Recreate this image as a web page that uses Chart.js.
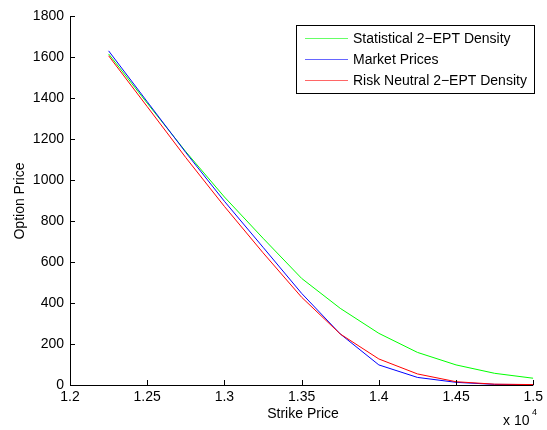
<!DOCTYPE html>
<html>
<head>
<meta charset="utf-8">
<script src="https://cdn.jsdelivr.net/npm/chart.js@4.4.0/dist/chart.umd.min.js"></script>
<style>
  html, body { margin: 0; padding: 0; background: #fff; }
  #wrap { width: 547px; height: 430px; }
</style>
</head>
<body>
<div id="wrap"><canvas id="myChart" width="547" height="430"></canvas></div>
<script>
// strike prices (x) and option prices
var strikes = [12250, 12500, 12750, 13000, 13250, 13500, 13750, 14000, 14250, 14500, 14750, 15000];
var statistical = [1615, 1375, 1138, 917, 716, 520, 374, 252, 159, 98, 57, 33];
var market = [1630, 1382, 1134, 896, 672, 447, 249, 98, 37, 13, 3, 2];
var riskNeutral = [1606, 1358, 1109, 871, 645, 428, 249, 127, 54, 16, 4, 2];

var seriesNames = ["Statistical 2\u2212EPT Density", "Market Prices", "Risk Neutral 2\u2212EPT Density"];
var xTicks = [12000, 12500, 13000, 13500, 14000, 14500, 15000];
var yTicks = [0, 200, 400, 600, 800, 1000, 1200, 1400, 1600, 1800];

var FONT = "Liberation Sans, Arial, Helvetica, sans-serif";

function pts(ys) {
    var out = [];
    for (var i = 0; i < strikes.length; i++) {
        out.push({ x: strikes[i], y: ys[i] });
    }
    return out;
}

// axes with inward ticks, titles, exponent and boxed legend, matlab style
var matlabBits = {
    id: 'matlabBits',
    afterDraw: function (chart) {
        var ctx = chart.ctx;
        var a = chart.chartArea;
        var xs = chart.scales.x, ys = chart.scales.y;
        ctx.save();
        ctx.strokeStyle = '#000';
        ctx.lineWidth = 1;
        ctx.beginPath();
        ctx.moveTo(Math.round(a.left) + 0.5, a.top);
        ctx.lineTo(Math.round(a.left) + 0.5, Math.round(a.bottom) + 0.5);
        ctx.lineTo(a.right, Math.round(a.bottom) + 0.5);
        ctx.stroke();

        ctx.beginPath();
        xTicks.forEach(function (v) {
            var px = Math.round(xs.getPixelForValue(v)) + 0.5;
            ctx.moveTo(px, a.bottom);
            ctx.lineTo(px, a.bottom - 5);
        });
        yTicks.forEach(function (v) {
            var py = Math.round(ys.getPixelForValue(v)) + 0.5;
            ctx.moveTo(a.left, py);
            ctx.lineTo(a.left + 5, py);
        });
        ctx.stroke();

        ctx.fillStyle = '#000';
        ctx.font = '14px ' + FONT;
        ctx.textAlign = 'center';
        ctx.textBaseline = 'middle';
        ctx.fillText('Strike Price', 303, 414);

        ctx.save();
        ctx.translate(20, 201);
        ctx.rotate(-Math.PI / 2);
        ctx.fillText('Option Price', 0, 0);
        ctx.restore();

        ctx.textAlign = 'left';
        ctx.fillText('x 10', 503, 421);
        ctx.font = '9px ' + FONT;
        ctx.fillText('4', 532, 413);

        // legend box
        ctx.fillStyle = '#fff';
        ctx.fillRect(296.5, 25.5, 238, 68);
        ctx.strokeStyle = '#000';
        ctx.strokeRect(296.5, 25.5, 238, 68);
        ctx.font = '14px ' + FONT;
        chart.data.datasets.forEach(function (ds, i) {
            var y = 38 + i * 21;
            ctx.strokeStyle = ds.borderColor;
            ctx.globalAlpha = 0.6;
            ctx.beginPath();
            ctx.moveTo(305, y + 0.5);
            ctx.lineTo(348, y + 0.5);
            ctx.stroke();
            ctx.globalAlpha = 1;
            ctx.fillStyle = '#000';
            ctx.textBaseline = 'middle';
            ctx.fillText(ds.label, 353, y + 1);
        });
        ctx.restore();
    }
};

var ctx = document.getElementById('myChart').getContext('2d');
var chart = new Chart(ctx, {
    type: 'line',
    data: {
        datasets: [{
            label: seriesNames[0],
            data: pts(statistical),
            borderColor: 'rgb(0, 255, 0)',
            borderWidth: 1,
            pointRadius: 0,
            fill: false,
            order: 3
        },
        {
            label: seriesNames[1],
            data: pts(market),
            borderColor: 'rgb(0, 0, 255)',
            borderWidth: 1,
            pointRadius: 0,
            fill: false,
            order: 2
        },
        {
            label: seriesNames[2],
            data: pts(riskNeutral),
            borderColor: 'rgb(255, 0, 0)',
            borderWidth: 1,
            pointRadius: 0,
            fill: false,
            order: 1
        }]
    },
    options: {
        responsive: false,
        animation: false,
        events: [],
        layout: { padding: { top: 16, right: 10, bottom: 0, left: 0 } },
        plugins: {
            legend: { display: false },
            tooltip: { enabled: false }
        },
        scales: {
            x: {
                type: 'linear',
                min: 12000,
                max: 15000,
                afterFit: function (s) { s.height = 45; },
                afterBuildTicks: function (s) { s.ticks = xTicks.map(function (v) { return { value: v }; }); },
                grid: { display: false, drawTicks: false },
                border: { display: false },
                ticks: {
                    padding: 4,
                    maxRotation: 0,
                    autoSkip: false,
                    color: '#000',
                    font: { family: FONT, size: 14 },
                    callback: function (v) { return String(v / 10000); }
                }
            },
            y: {
                min: 0,
                max: 1800,
                afterFit: function (s) { s.width = 70; },
                afterBuildTicks: function (s) { s.ticks = yTicks.map(function (v) { return { value: v }; }); },
                grid: { display: false, drawTicks: false },
                border: { display: false },
                ticks: {
                    padding: 6,
                    autoSkip: false,
                    color: '#000',
                    font: { family: FONT, size: 14 },
                    callback: function (v) { return String(v); }
                }
            }
        }
    },
    plugins: [matlabBits]
});
</script>
</body>
</html>
